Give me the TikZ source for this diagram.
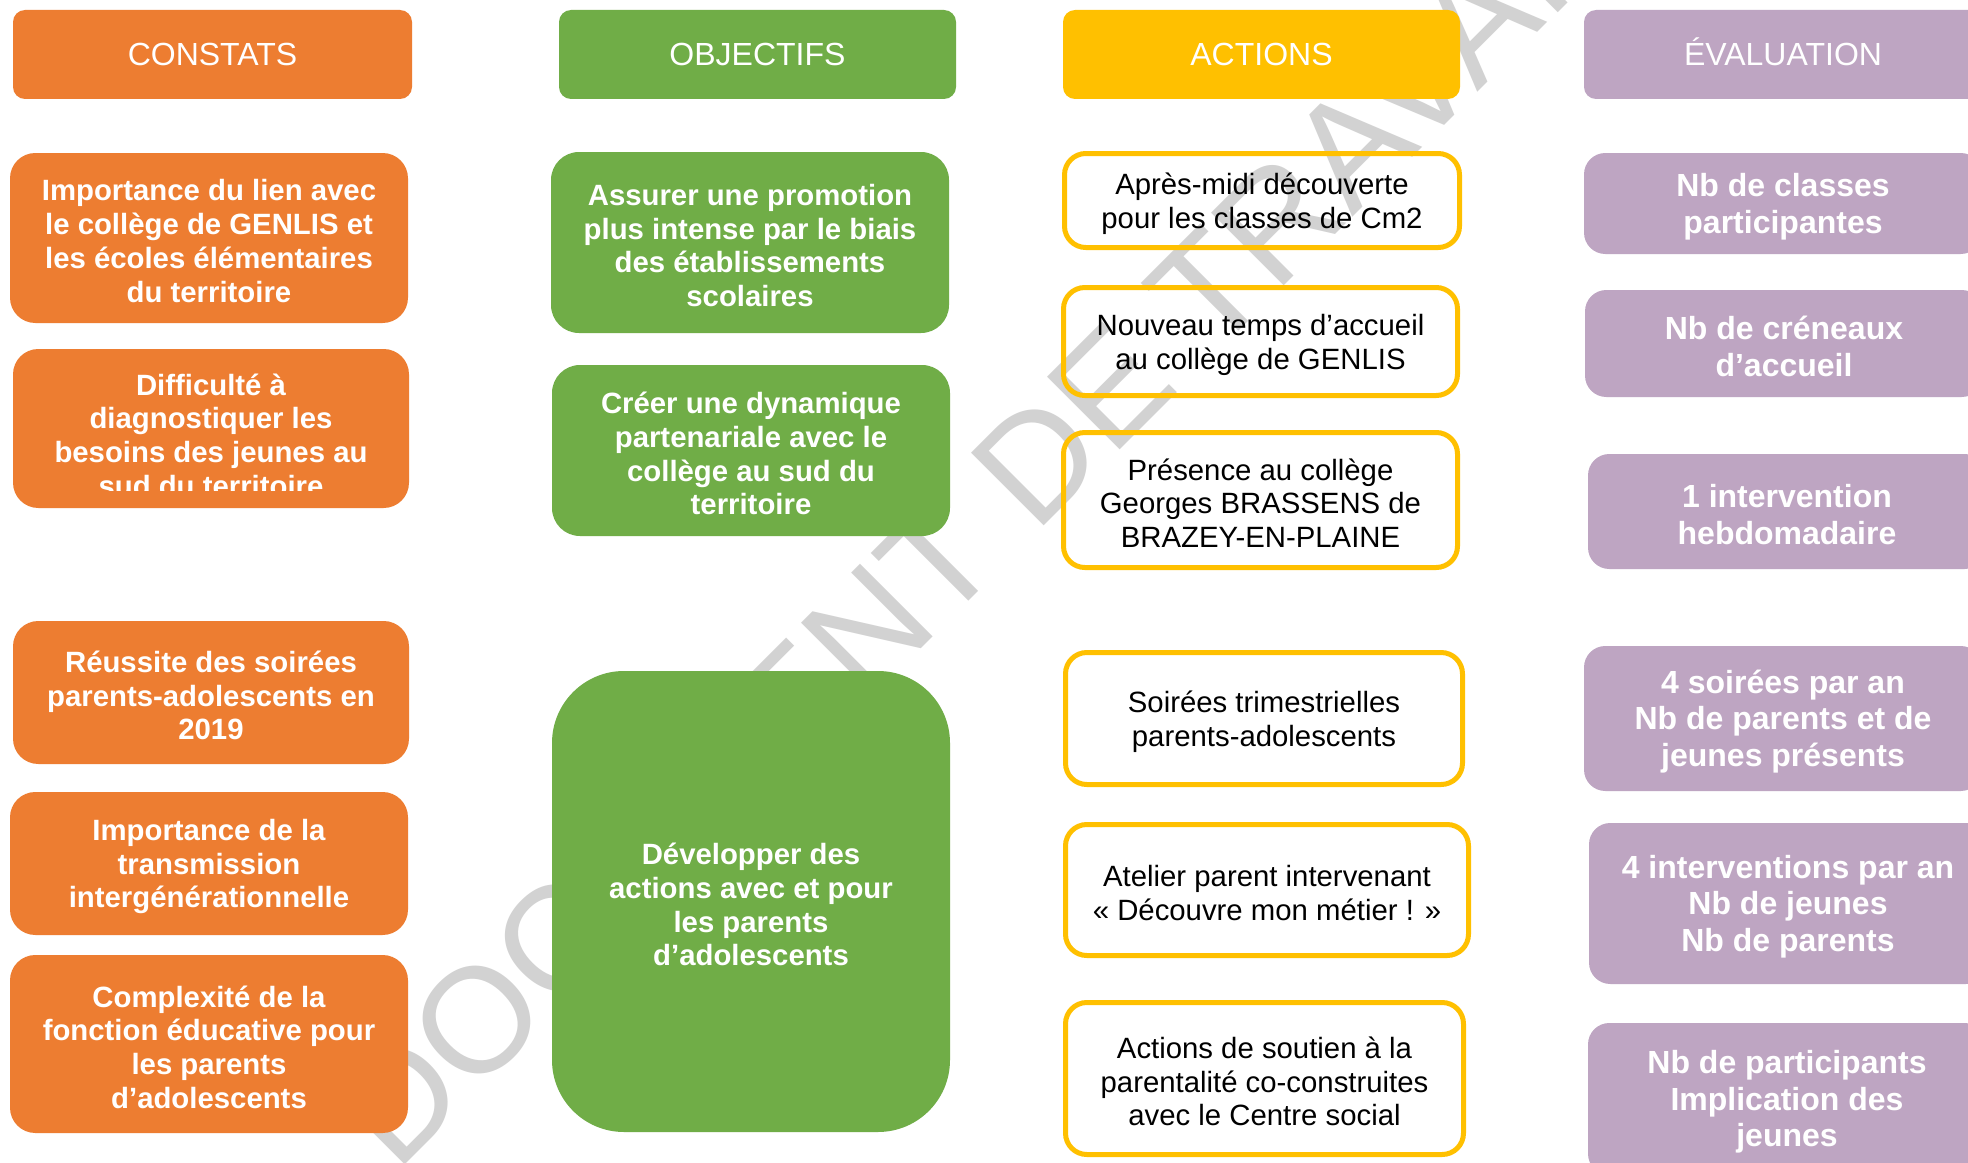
\documentclass[tikz,border=0pt]{standalone}
\usepackage{fontspec}
\setmainfont{Liberation Sans}
\definecolor{orangeC}{HTML}{ED7D31}
\definecolor{greenC}{HTML}{70AD47}
\definecolor{yellowC}{HTML}{FFC000}
\definecolor{purpleC}{HTML}{BEA5C2}
\definecolor{wmgray}{HTML}{D2D2D2}
\newcommand\hdrfont{\fontsize{24}{27.6}\selectfont}
\newcommand\boxfont{\fontsize{22}{25.3}\selectfont\bfseries}
\newcommand\actfont{\fontsize{22}{25.3}\selectfont}
\newcommand\evfont{\fontsize{24}{27.3}\selectfont\bfseries}
% [#1 text options], #2 name, #3 style, #4 x1, #5 y1, #6 x2, #7 y2, #8 text
\newcommand\mkbox[8][yshift=-2.3pt]{%
  \pgfmathsetmacro\mkbw{(#6-#4)*0.75}%
  \pgfmathsetmacro\mkbh{(#7-#5)*0.75}%
  \node[#3, minimum width=\mkbw pt, minimum height=\mkbh pt] (#2) at ({(#4+#6)/2},{(#5+#7)/2}) {};%
  \node[#3, fill=none, draw=none, #1] (#2t) at (#2.center) {#8};%
}
\begin{document}
\begin{tikzpicture}[x=0.75pt,y=-0.75pt,
  hdr/.style={rounded corners=9pt, inner sep=0pt, text=white, font=\hdrfont},
  obox/.style={fill=orangeC, rounded corners=19pt, inner sep=0pt, align=center, text=white, font=\boxfont},
  otext/.style={inner sep=0pt, align=center, text=white, font=\boxfont},
  gbox/.style={fill=greenC, rounded corners=21pt, inner sep=0pt, align=center, text=white, font=\boxfont},
  gbig/.style={gbox, rounded corners=54pt},
  abox/.style={draw=yellowC, line width=3.75pt, rounded corners=16pt, inner sep=0pt, align=center, text=black, font=\actfont},
  pbox/.style={fill=purpleC, rounded corners=16pt, inner sep=0pt, align=center, text=white, font=\evfont},
  wm/.style={text=wmgray, inner sep=0pt, font=\fontsize{112}{132}\selectfont}
]
\path[use as bounding box, fill=white] (0,0) rectangle (1968,1163);
\clip (0,0) rectangle (1968,1163);

% watermark
\node[wm, rotate=45, anchor=base west] (wm) at (396,1174) {DOCUMENT DE TRAVAIL};

% headers
\mkbox[text height=17pt, text depth=0pt]{H1}{hdr, fill=orangeC}{13}{10}{412}{99}{CONSTATS}
\mkbox[text height=17pt, text depth=0pt]{H2}{hdr, fill=greenC}{559}{10}{956}{99}{OBJECTIFS}
\mkbox[text height=17pt, text depth=0pt]{H3}{hdr, fill=yellowC}{1063}{10}{1460}{99}{ACTIONS}
\mkbox[text height=17pt, text depth=0pt]{H4}{hdr, fill=purpleC}{1584}{10}{1982}{99}{ÉVALUATION}

% constats
\mkbox{C1}{obox}{10}{153}{408}{323}{Importance du lien avec\\le collège de GENLIS et\\les écoles élémentaires\\du territoire}
\pgfmathsetmacro\mkbw{(409-13)*0.75}
\pgfmathsetmacro\mkbh{(508-349)*0.75}
\node[obox, minimum width=\mkbw pt, minimum height=\mkbh pt] (C2) at (211,428.5) {};
\begin{scope}
  \clip (13,340) rectangle (409,490);
  \node[otext] (C2t) at (211,435) {Difficulté à\\diagnostiquer les\\besoins des jeunes au\\sud du territoire};
\end{scope}
\mkbox{C3}{obox}{13}{621}{409}{764}{Réussite des soirées\\parents-adolescents en\\2019}
\mkbox{C4}{obox}{10}{792}{408}{935}{Importance de la\\transmission\\intergénérationnelle}
\mkbox{C5}{obox}{10}{955}{408}{1133}{Complexité de la\\fonction éducative pour\\les parents\\d’adolescents}

% objectifs
\mkbox{O1}{gbox}{551}{152}{949}{333}{Assurer une promotion\\plus intense par le biais\\des établissements\\scolaires}
\mkbox{O2}{gbox}{552}{365}{950}{536}{Créer une dynamique\\partenariale avec le\\collège au sud du\\territoire}
\mkbox{O3}{gbig}{552}{671}{950}{1132}{Développer des\\actions avec et pour\\les parents\\d’adolescents}

% actions
\mkbox{A1}{abox}{1064.5}{153.5}{1459.5}{247.5}{Après-midi découverte\\pour les classes de Cm2}
\mkbox{A2}{abox}{1063.5}{287.5}{1457.5}{395.5}{Nouveau temps d’accueil\\au collège de GENLIS}
\mkbox{A3}{abox}{1063.5}{432.5}{1457.5}{567.5}{Présence au collège\\Georges BRASSENS de\\BRAZEY-EN-PLAINE}
\mkbox{A4}{abox}{1065.5}{652.5}{1462.5}{784.5}{Soirées trimestrielles\\parents-adolescents}
\mkbox{A5}{abox}{1065.5}{824.5}{1468.5}{955.5}{Atelier parent intervenant\\« Découvre mon métier ! »}
\mkbox{A6}{abox}{1065.5}{1002.5}{1463.5}{1154.5}{Actions de soutien à la\\parentalité co-construites\\avec le Centre social}

% evaluation
\mkbox{E1}{pbox}{1584}{153}{1982}{254}{Nb de classes\\participantes}
\mkbox{E2}{pbox}{1585}{290}{1983}{397}{Nb de créneaux\\d’accueil}
\mkbox{E3}{pbox}{1588}{454}{1986}{569}{1 intervention\\hebdomadaire}
\mkbox{E4}{pbox}{1584}{646}{1982}{791}{4 soirées par an\\Nb de parents et de\\jeunes présents}
\mkbox{E5}{pbox}{1589}{823}{1987}{984}{4 interventions par an\\Nb de jeunes\\Nb de parents}
\mkbox{E6}{pbox}{1588}{1023}{1986}{1175}{Nb de participants\\Implication des\\jeunes}
\end{tikzpicture}
\end{document}
